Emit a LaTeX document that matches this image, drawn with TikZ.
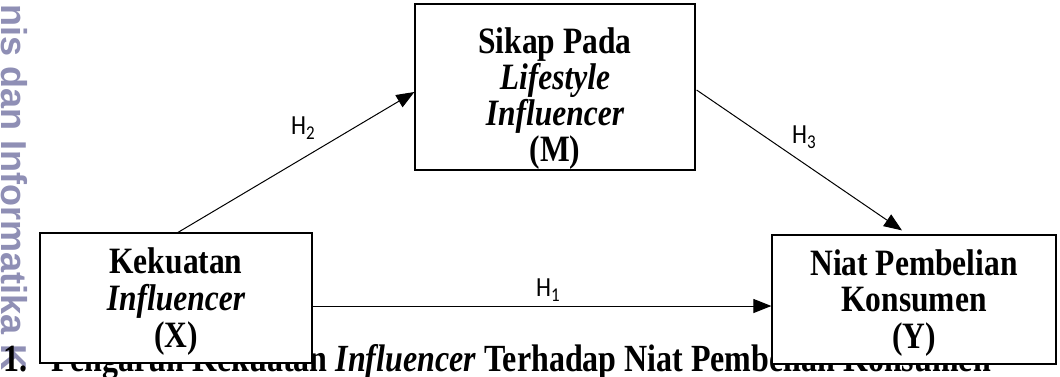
\documentclass[tikz,border=0pt]{standalone}
\usepackage{fontspec}
\setmainfont{Liberation Serif}
\newfontfamily\hfont{Carlito}
\newfontfamily\wmfont{Liberation Sans}
\usetikzlibrary{arrows.meta,calc}
\definecolor{wmcol}{RGB}{143,143,181}
% box text: vertically stretched Times-like bold
\newcommand{\stretchtext}[2]{\scalebox{1}[1.18]{\fontsize{31.5}{#1}\selectfont\bfseries\renewcommand{\arraystretch}{1}\begin{tabular}{@{}c@{}}#2\end{tabular}}}
\tikzset{
  boxshape/.style={draw=black, line width=1.2pt, fill=white, inner sep=0pt},
  boxtext/.style={inner sep=0pt},
  hyp/.style={draw=black, line width=1pt, -{Triangle[length=18pt,width=14pt]}},
  hlab/.style={inner sep=0pt, font=\hfont\fontsize{24}{24}\selectfont},
}
\newcommand{\Hs}[1]{\scalebox{1}[1.15]{H\raisebox{-4pt}{\fontsize{17}{17}\selectfont #1}}}
\begin{document}
\begin{tikzpicture}[x=1pt,y=1pt]
\useasboundingbox (0,0) rectangle (1060,376);
\clip (0,0) rectangle (1060,376);
% watermark
\node[anchor=base west, rotate=-90, inner sep=0pt, text=wmcol,
      font=\wmfont\bfseries\fontsize{36}{36}\selectfont] (wm) at (1,372) {nis dan Informatika K};
% caption (partly hidden by boxes)
\node[anchor=base west, inner sep=0pt, font=\fontsize{32}{32}\selectfont\bfseries] (cap) at (3,5)
  {\scalebox{1}[1.2]{\makebox[48pt][l]{1.}Pengaruh Kekuatan \textit{Influencer} Terhadap Niat Pembelian Konsumen}};
% boxes
\node[boxshape, minimum width=272pt, minimum height=130pt] (X) at (176,78) {};
\node[boxshape, minimum width=280pt, minimum height=166pt] (M) at (555,289) {};
\node[boxshape, minimum width=284pt, minimum height=129pt] (Y) at (914,76.5) {};
\node[boxtext] (Xt) at (176,72.8) {\stretchtext{30.9}{Kekuatan\\\textit{Influencer}\\(X)}};
\node[boxtext] (Mt) at (555,276.5) {\stretchtext{28.5}{Sikap Pada\\\textit{Lifestyle}\\\textit{Influencer}\\(M)}};
\node[boxtext] (Yt) at (914,71.8) {\stretchtext{30.9}{Niat Pembelian\\Konsumen\\(Y)}};
% connectors
\draw[hyp] ($(X.north)+(2,0)$) -- ($(M.west)+(0,-5)$);
\draw[hyp] ($(M.east)+(1,-3)$) -- ($(Y.north)+(-12,4)$);
\draw[hyp] ($(X.east)+(0,-8)$) -- ($(Y.west)+(0,-6.5)$);
% labels
\node[hlab] (h2) at (303,248) {\Hs{2}};
\node[hlab] (h3) at (804,239) {\Hs{3}};
\node[hlab] (h1) at (548,86) {\Hs{1}};
\end{tikzpicture}
\end{document}
